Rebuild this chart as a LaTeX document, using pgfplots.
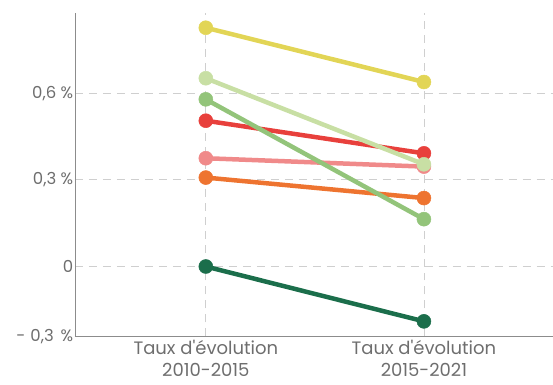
\documentclass[border=0pt]{standalone}
\usepackage{pgfplots}
\pgfplotsset{compat=1.18}
\usepackage{fontspec}
\setmainfont{Poppins}[Ligatures=TeXOff]
\definecolor{cyel}{HTML}{E2D556}
\definecolor{clgr}{HTML}{C8DFA4}
\definecolor{cgrn}{HTML}{93C47A}
\definecolor{cred}{HTML}{E8403C}
\definecolor{cpnk}{HTML}{F08A8A}
\definecolor{corg}{HTML}{EE7430}
\definecolor{cdgr}{HTML}{1B6E4B}
\definecolor{axisgray}{HTML}{8C8C8C}
\definecolor{gridgray}{HTML}{CFCFCF}
\definecolor{labgray}{HTML}{6E6E6E}
\begin{document}
\begin{tikzpicture}
\begin{axis}[name=ax, scale only axis, width=478pt, height=323.4pt,
  xmin=-0.6, xmax=1.59, ymin=-0.2423, ymax=0.877,
  axis x line*=bottom, axis y line*=left,
  axis line style={draw=axisgray, line width=0.8pt},
  xtick={0,1},
  xticklabels={{Taux d'évolution\\2010-2015},{Taux d'évolution\\2015-2021}},
  xticklabel style={align=center, font=\fontsize{18}{21.5}\selectfont, text=labgray, inner sep=2pt, yshift=-2pt},
  ytick={-0.2423,0,0.3,0.6},
  yticklabels={{-\hspace{5pt}0,3\hspace{7pt}\%},{0},{0,3 \%},{0,6 \%}},
  yticklabel style={font=\fontsize{16.5}{18}\selectfont, text=labgray, inner sep=1.5pt},
  major tick length=0pt,
  grid=major,
  major grid style={color=gridgray, line width=0.8pt, dash pattern=on 8pt off 6pt},
  clip=false,
  every axis plot/.append style={line width=4.5pt, mark=*, mark size=7pt, mark options={line width=0.5pt}},
]
\addplot[cdgr] coordinates {(0,0) (1,-0.190)};
\addplot[corg] coordinates {(0,0.308) (1,0.237)};
\addplot[cpnk] coordinates {(0,0.375) (1,0.346)};
\addplot[cred] coordinates {(0,0.505) (1,0.392)};
\addplot[cgrn] coordinates {(0,0.579) (1,0.164)};
\addplot[clgr] coordinates {(0,0.652) (1,0.354)};
\addplot[cyel] coordinates {(0,0.827) (1,0.639)};
\end{axis}
\path (ax.south west) ++(-75pt,-48.3pt) coordinate (bl);
\path (ax.north east) ++(0,13.3pt) coordinate (tr);
\path (bl) rectangle (tr);
\end{tikzpicture}
\end{document}
